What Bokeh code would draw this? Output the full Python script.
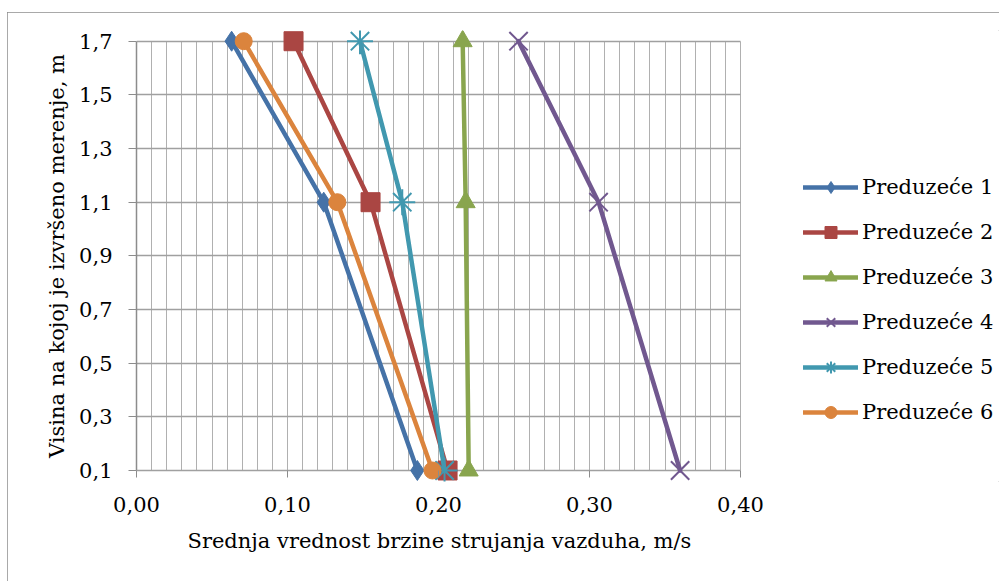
from bokeh.plotting import figure
from bokeh.models import (Range1d, FixedTicker, SingleIntervalTicker, CustomJSTickFormatter,
                          Legend, LegendItem, Title)
from bokeh.embed import file_html
from bokeh.resources import INLINE

# ---- data ----
heights = [1.7, 1.1, 0.1]
names = ["Preduzeće 1", "Preduzeće 2", "Preduzeće 3", "Preduzeće 4", "Preduzeće 5", "Preduzeće 6"]
p1 = [0.063, 0.124, 0.186]
p2 = [0.104, 0.155, 0.206]
p3 = [0.216, 0.218, 0.220]
p4 = [0.253, 0.306, 0.360]
p5 = [0.148, 0.176, 0.204]
p6 = [0.071, 0.133, 0.196]
y_ticks = [0.1, 0.3, 0.5, 0.7, 0.9, 1.1, 1.3, 1.5, 1.7]
x_label = "Srednja vrednost brzine strujanja vazduha, m/s"
y_label = "Visina na kojoj je izvršeno merenje, m"

series = [p1, p2, p3, p4, p5, p6]
colors = ["#4572A7", "#AA4643", "#89A54E", "#71588F", "#4198AF", "#DB843D"]
markers = ["diamond", "square", "triangle", "x", "asterisk", "circle"]
msizes = [20, 19, 19, 26, 26, 17]

FONT = "DejaVu Serif"
FS = "21px"

p = figure(width=992, height=569, output_backend="svg", toolbar_location=None,
           x_range=Range1d(0.0, 0.571523), y_range=Range1d(0.059, 1.7399),
           min_border_left=129, min_border_right=0, min_border_top=18, min_border_bottom=100)
p.styles = {"margin-top": "12px", "margin-left": "7px",
            "outline": "1px solid #8c8c8c", "outline-offset": "-1px"}
p.outline_line_color = None
p.background_fill_color = "white"

# grids
p.xgrid.ticker = SingleIntervalTicker(interval=0.01, num_minor_ticks=0)
p.xgrid.bounds = (0.0, 0.4001)
p.xgrid.cross_bounds = (0.1, 1.7)
p.xgrid.grid_line_color = "#b0b0b0"
p.xgrid.grid_line_width = 1
p.ygrid.ticker = FixedTicker(ticks=y_ticks)
p.ygrid.cross_bounds = (0.0, 0.4)
p.ygrid.grid_line_color = "#a0a0a0"
p.ygrid.grid_line_width = 1.5

# axes
p.xaxis.ticker = SingleIntervalTicker(interval=0.1, num_minor_ticks=0)
p.xaxis.formatter = CustomJSTickFormatter(code="return tick.toFixed(2).replace('.', ',');")
p.xaxis.bounds = (0.0, 0.4)
p.yaxis.ticker = FixedTicker(ticks=y_ticks)
p.yaxis.formatter = CustomJSTickFormatter(code="return tick.toFixed(1).replace('.', ',');")
p.yaxis.bounds = (0.1, 1.7)

for ax in (p.xaxis[0], p.yaxis[0]):
    ax.major_label_text_font = FONT
    ax.major_label_text_font_size = FS
    ax.major_label_text_color = "black"
    ax.axis_label_text_font = FONT
    ax.axis_label_text_font_size = FS
    ax.axis_label_text_font_style = "normal"
    ax.axis_label_text_color = "black"
    ax.minor_tick_line_color = None
    ax.major_tick_line_color = "#8c8c8c"
    ax.axis_line_color = "#8c8c8c"

p.yaxis.axis_label = y_label
p.xaxis.axis_line_color = None
p.xaxis.major_tick_in = 11
p.xaxis.major_tick_out = -4
p.xaxis.major_label_standoff = 15
p.yaxis.major_tick_in = 0
p.yaxis.major_tick_out = 8
p.yaxis.major_label_standoff = 16
p.yaxis.axis_label_standoff = 7
p.yaxis.axis_line_width = 1.5

# x axis title, placed below the axis and aligned like the reference
xt = Title(text=x_label, align="left", offset=51, standoff=24,
           text_font=FONT, text_font_size=FS, text_font_style="normal", text_color="black")
p.add_layout(xt, "below")

items = []
for vals, name, c, m, s in zip(series, names, colors, markers, msizes):
    ln = p.line(vals, heights, line_color=c, line_width=4.5, line_join="round", line_cap="round")
    lw = 2 if m in ("x", "asterisk") else 1
    sc = p.scatter(vals, heights, marker=m, size=s, fill_color=c, line_color=c, line_width=lw)
    items.append(LegendItem(label=name, renderers=[ln, sc]))

legend = Legend(items=items, location=(667, 54), orientation="vertical",
                glyph_width=55, glyph_height=30, label_height=30, spacing=15,
                label_standoff=4, padding=0, margin=0,
                label_text_font=FONT, label_text_font_size=FS, label_text_color="black",
                border_line_color=None, background_fill_alpha=0)
p.add_layout(legend, "center")

open("out.html", "w").write(file_html(p, INLINE))
